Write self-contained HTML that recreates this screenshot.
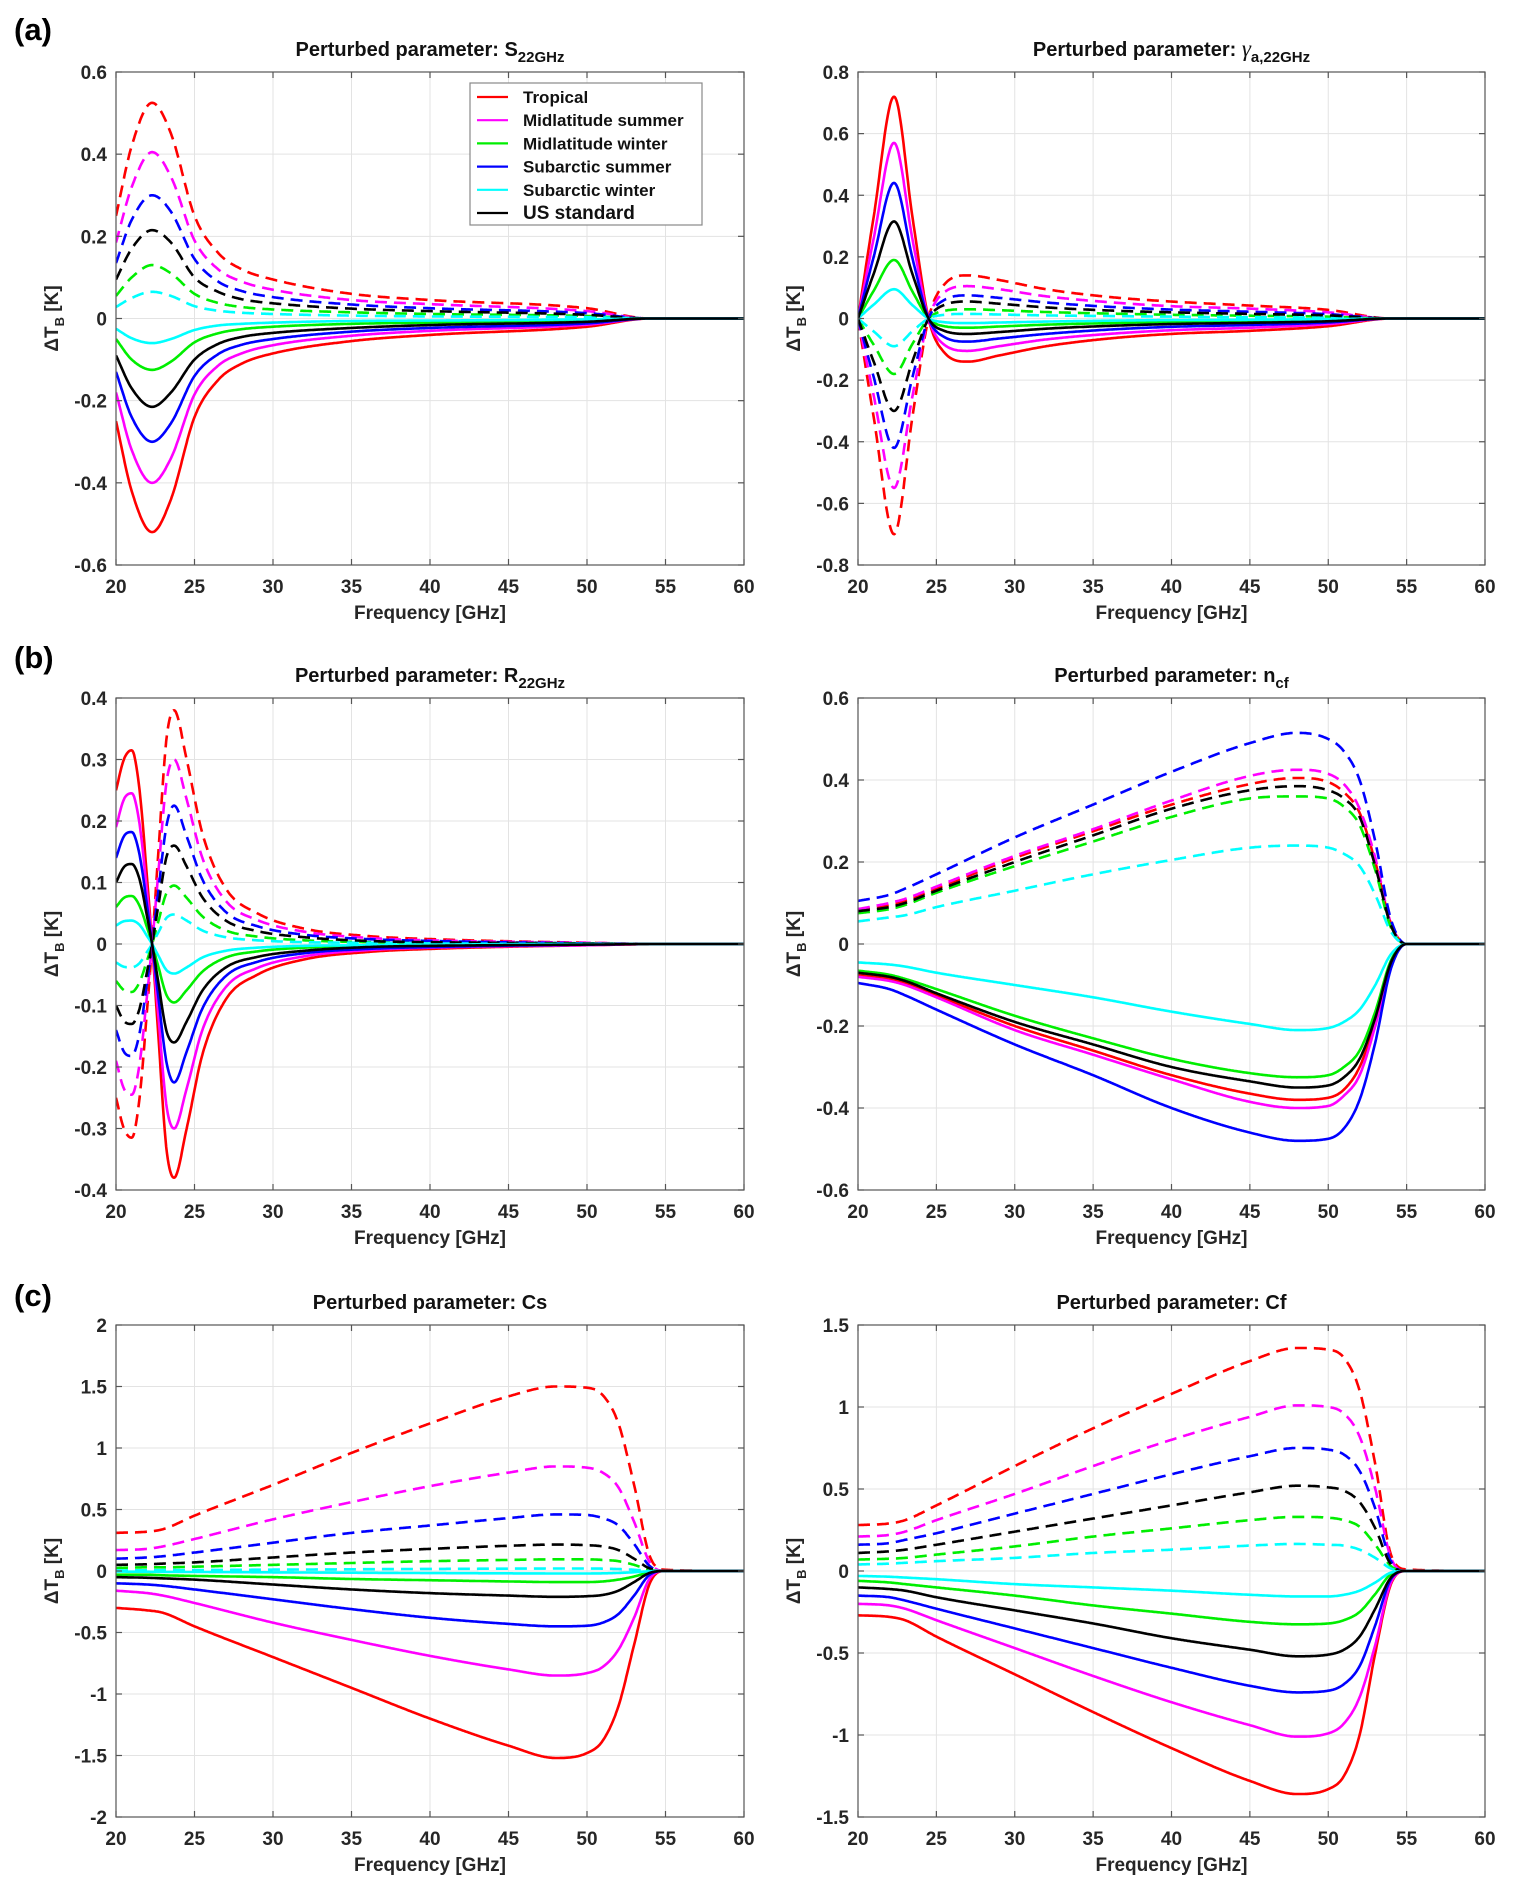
<!DOCTYPE html>
<html><head><meta charset="utf-8">
<style>
html,body{margin:0;padding:0;background:#fff;}
svg{display:block;font-family:"Liberation Sans",Arial,sans-serif;}
</style></head>
<body>
<svg id="fig" width="1513" height="1894" viewBox="0 0 1513 1894"></svg>
<script>
// ---------- data ----------
const colors = ["#ff0000","#ff00ff","#00ee00","#0000ff","#00ffff","#000000"];
const profileNames = ["Tropical","Midlatitude summer","Midlatitude winter","Subarctic summer","Subarctic winter","US standard"];

// Panel (a) left: S22GHz
const fS = [20,21,22.3,23.5,25,26.5,28,30,35,40,50,54,60];
const sSolid = [
 [-0.25,-0.42,-0.52,-0.44,-0.24,-0.15,-0.11,-0.085,-0.055,-0.04,-0.02,0,0],
 [-0.18,-0.32,-0.40,-0.34,-0.185,-0.115,-0.085,-0.065,-0.042,-0.03,-0.015,0,0],
 [-0.05,-0.10,-0.125,-0.105,-0.058,-0.036,-0.026,-0.02,-0.013,-0.01,-0.005,0,0],
 [-0.13,-0.24,-0.30,-0.255,-0.14,-0.087,-0.064,-0.05,-0.032,-0.023,-0.012,0,0],
 [-0.025,-0.048,-0.06,-0.05,-0.028,-0.017,-0.013,-0.01,-0.006,-0.005,-0.002,0,0],
 [-0.09,-0.17,-0.215,-0.18,-0.10,-0.062,-0.045,-0.035,-0.023,-0.016,-0.008,0,0]];
const sDash = [
 [0.25,0.42,0.525,0.45,0.25,0.16,0.12,0.095,0.06,0.045,0.025,0,0],
 [0.185,0.32,0.405,0.345,0.19,0.12,0.09,0.07,0.045,0.035,0.018,0,0],
 [0.055,0.10,0.13,0.11,0.06,0.038,0.028,0.022,0.015,0.011,0.006,0,0],
 [0.135,0.24,0.30,0.26,0.145,0.09,0.067,0.052,0.034,0.025,0.013,0,0],
 [0.028,0.05,0.065,0.055,0.03,0.019,0.014,0.011,0.007,0.005,0.003,0,0],
 [0.095,0.17,0.215,0.185,0.10,0.065,0.047,0.037,0.024,0.018,0.009,0,0]];

// Panel (a) right: gamma a,22GHz
const fG = [20,21,22.3,23.5,24.5,25.5,27,29,32,36,40,45,50,54,60];
const gSolid = [
 [0,0.33,0.72,0.32,0,-0.11,-0.14,-0.12,-0.09,-0.065,-0.05,-0.04,-0.025,0,0],
 [0,0.26,0.57,0.25,0,-0.085,-0.105,-0.09,-0.068,-0.05,-0.038,-0.03,-0.018,0,0],
 [0,0.09,0.19,0.085,0,-0.025,-0.03,-0.026,-0.02,-0.015,-0.011,-0.008,-0.005,0,0],
 [0,0.20,0.44,0.19,0,-0.06,-0.075,-0.065,-0.05,-0.036,-0.027,-0.021,-0.013,0,0],
 [0,0.045,0.095,0.042,0,-0.012,-0.015,-0.013,-0.01,-0.007,-0.005,-0.004,-0.002,0,0],
 [0,0.145,0.315,0.14,0,-0.04,-0.05,-0.044,-0.033,-0.024,-0.018,-0.014,-0.009,0,0]];
const gDash = [
 [0,-0.32,-0.70,-0.31,0,0.11,0.14,0.125,0.095,0.07,0.055,0.042,0.028,0,0],
 [0,-0.25,-0.55,-0.245,0,0.085,0.105,0.095,0.072,0.053,0.04,0.032,0.02,0,0],
 [0,-0.085,-0.18,-0.08,0,0.025,0.03,0.027,0.021,0.016,0.012,0.009,0.006,0,0],
 [0,-0.19,-0.42,-0.185,0,0.06,0.075,0.067,0.052,0.038,0.029,0.022,0.014,0,0],
 [0,-0.042,-0.09,-0.04,0,0.012,0.015,0.013,0.01,0.008,0.006,0.004,0.003,0,0],
 [0,-0.14,-0.30,-0.135,0,0.044,0.055,0.048,0.036,0.026,0.02,0.015,0.01,0,0]];

// Panel (b) left: R22GHz
const fR = [20,20.5,21,21.5,22,22.3,22.7,23.2,23.7,24.5,25.5,27,29,32,36,40,50,55,60];
const rSolid = [
 [0.25,0.30,0.315,0.25,0.10,0,-0.15,-0.33,-0.38,-0.30,-0.18,-0.09,-0.05,-0.025,-0.013,-0.008,-0.002,0,0],
 [0.19,0.235,0.245,0.195,0.078,0,-0.117,-0.26,-0.30,-0.235,-0.14,-0.07,-0.039,-0.02,-0.01,-0.006,-0.002,0,0],
 [0.06,0.075,0.078,0.062,0.025,0,-0.037,-0.082,-0.095,-0.075,-0.045,-0.022,-0.012,-0.006,-0.003,-0.002,0,0,0],
 [0.14,0.175,0.182,0.145,0.058,0,-0.087,-0.19,-0.225,-0.175,-0.105,-0.052,-0.029,-0.015,-0.008,-0.005,-0.001,0,0],
 [0.03,0.037,0.038,0.031,0.012,0,-0.019,-0.042,-0.048,-0.038,-0.022,-0.011,-0.006,-0.003,-0.002,-0.001,0,0,0],
 [0.10,0.125,0.13,0.105,0.042,0,-0.063,-0.14,-0.16,-0.126,-0.076,-0.038,-0.021,-0.011,-0.005,-0.003,-0.001,0,0]];
const rDash = [
 [-0.25,-0.30,-0.315,-0.25,-0.10,0,0.15,0.33,0.38,0.30,0.18,0.09,0.05,0.025,0.013,0.008,0.002,0,0],
 [-0.19,-0.235,-0.245,-0.195,-0.078,0,0.117,0.26,0.30,0.235,0.14,0.07,0.039,0.02,0.01,0.006,0.002,0,0],
 [-0.06,-0.075,-0.078,-0.062,-0.025,0,0.037,0.082,0.095,0.075,0.045,0.022,0.012,0.006,0.003,0.002,0,0,0],
 [-0.14,-0.175,-0.182,-0.145,-0.058,0,0.087,0.19,0.225,0.175,0.105,0.052,0.029,0.015,0.008,0.005,0.001,0,0],
 [-0.03,-0.037,-0.038,-0.031,-0.012,0,0.019,0.042,0.048,0.038,0.022,0.011,0.006,0.003,0.002,0.001,0,0,0],
 [-0.10,-0.125,-0.13,-0.105,-0.042,0,0.063,0.14,0.16,0.126,0.076,0.038,0.021,0.011,0.005,0.003,0.001,0,0]];

// Panels n_cf, Cs, Cf share a frequency grid
const fW = [20,22,23,25,30,35,40,45,48,50,51,52,53,54,55,60];
const nDash = [
 [0.085,0.095,0.105,0.135,0.21,0.275,0.34,0.39,0.405,0.395,0.37,0.32,0.20,0.05,0,0],
 [0.085,0.10,0.11,0.14,0.215,0.28,0.35,0.41,0.425,0.415,0.39,0.33,0.21,0.05,0,0],
 [0.075,0.085,0.095,0.125,0.19,0.25,0.31,0.355,0.36,0.355,0.335,0.29,0.18,0.04,0,0],
 [0.105,0.12,0.135,0.17,0.26,0.34,0.42,0.49,0.515,0.50,0.47,0.40,0.25,0.06,0,0],
 [0.055,0.065,0.07,0.09,0.13,0.17,0.205,0.235,0.24,0.235,0.22,0.19,0.12,0.03,0,0],
 [0.08,0.09,0.10,0.13,0.20,0.265,0.33,0.375,0.385,0.375,0.355,0.31,0.19,0.045,0,0]];
const nSolid = [
 [-0.075,-0.085,-0.095,-0.125,-0.20,-0.26,-0.32,-0.365,-0.38,-0.375,-0.355,-0.30,-0.19,-0.05,0,0],
 [-0.08,-0.09,-0.10,-0.13,-0.21,-0.27,-0.33,-0.385,-0.40,-0.395,-0.37,-0.32,-0.20,-0.05,0,0],
 [-0.065,-0.075,-0.085,-0.11,-0.175,-0.23,-0.28,-0.315,-0.325,-0.32,-0.30,-0.26,-0.165,-0.04,0,0],
 [-0.095,-0.11,-0.125,-0.16,-0.245,-0.32,-0.40,-0.46,-0.48,-0.475,-0.45,-0.38,-0.24,-0.06,0,0],
 [-0.045,-0.05,-0.055,-0.07,-0.10,-0.13,-0.165,-0.195,-0.21,-0.205,-0.19,-0.16,-0.10,-0.025,0,0],
 [-0.07,-0.08,-0.09,-0.12,-0.19,-0.245,-0.30,-0.335,-0.35,-0.345,-0.325,-0.28,-0.18,-0.045,0,0]];
const csDash = [
 [0.31,0.32,0.34,0.45,0.70,0.96,1.20,1.42,1.50,1.49,1.43,1.20,0.70,0.12,0.01,0],
 [0.17,0.18,0.20,0.26,0.42,0.56,0.69,0.80,0.85,0.84,0.80,0.68,0.40,0.07,0,0],
 [0.025,0.03,0.03,0.035,0.05,0.065,0.08,0.09,0.095,0.095,0.09,0.08,0.05,0.01,0,0],
 [0.10,0.11,0.12,0.15,0.23,0.31,0.37,0.43,0.46,0.455,0.43,0.37,0.22,0.04,0,0],
 [0.005,0.006,0.007,0.008,0.011,0.014,0.017,0.019,0.02,0.02,0.019,0.016,0.01,0.002,0,0],
 [0.05,0.055,0.06,0.07,0.11,0.15,0.18,0.205,0.215,0.21,0.20,0.17,0.10,0.02,0,0]];
const csSolid = [
 [-0.30,-0.32,-0.34,-0.45,-0.70,-0.95,-1.20,-1.42,-1.52,-1.48,-1.38,-1.10,-0.60,-0.10,0,0],
 [-0.16,-0.18,-0.20,-0.26,-0.42,-0.56,-0.69,-0.80,-0.85,-0.83,-0.78,-0.64,-0.38,-0.06,0,0],
 [-0.03,-0.03,-0.035,-0.04,-0.05,-0.065,-0.075,-0.085,-0.09,-0.09,-0.085,-0.07,-0.045,-0.01,0,0],
 [-0.10,-0.11,-0.12,-0.15,-0.23,-0.31,-0.38,-0.43,-0.45,-0.445,-0.42,-0.35,-0.20,-0.03,0,0],
 [-0.005,-0.006,-0.007,-0.008,-0.011,-0.014,-0.017,-0.019,-0.02,-0.02,-0.019,-0.016,-0.01,-0.002,0,0],
 [-0.05,-0.055,-0.06,-0.07,-0.11,-0.15,-0.18,-0.20,-0.21,-0.205,-0.195,-0.16,-0.09,-0.015,0,0]];
const cfDash = [
 [0.28,0.29,0.31,0.40,0.64,0.87,1.08,1.28,1.36,1.35,1.30,1.10,0.65,0.10,0.01,0],
 [0.21,0.22,0.24,0.31,0.47,0.64,0.80,0.94,1.01,1.00,0.96,0.82,0.50,0.08,0,0],
 [0.07,0.075,0.08,0.10,0.15,0.21,0.26,0.31,0.33,0.325,0.31,0.27,0.16,0.03,0,0],
 [0.16,0.17,0.19,0.23,0.35,0.47,0.59,0.70,0.75,0.74,0.71,0.61,0.38,0.06,0,0],
 [0.04,0.045,0.05,0.06,0.08,0.11,0.13,0.155,0.165,0.16,0.155,0.13,0.08,0.015,0,0],
 [0.11,0.12,0.13,0.16,0.24,0.32,0.40,0.48,0.52,0.51,0.49,0.42,0.26,0.04,0,0]];
const cfSolid = [
 [-0.27,-0.28,-0.30,-0.40,-0.63,-0.86,-1.08,-1.28,-1.36,-1.33,-1.25,-1.00,-0.50,-0.08,0,0],
 [-0.20,-0.21,-0.23,-0.30,-0.47,-0.64,-0.80,-0.94,-1.01,-0.99,-0.93,-0.77,-0.45,-0.07,0,0],
 [-0.06,-0.07,-0.08,-0.10,-0.15,-0.21,-0.26,-0.31,-0.325,-0.32,-0.30,-0.25,-0.14,-0.02,0,0],
 [-0.15,-0.16,-0.18,-0.23,-0.35,-0.47,-0.59,-0.70,-0.74,-0.73,-0.69,-0.58,-0.33,-0.05,0,0],
 [-0.03,-0.035,-0.04,-0.05,-0.08,-0.10,-0.12,-0.145,-0.155,-0.155,-0.145,-0.12,-0.07,-0.01,0,0],
 [-0.10,-0.11,-0.12,-0.16,-0.24,-0.32,-0.41,-0.48,-0.52,-0.51,-0.48,-0.40,-0.23,-0.04,0,0]];

const xTicks = [20,25,30,35,40,45,50,55,60];
const yTicksA = [-0.6,-0.4,-0.2,0,0.2,0.4,0.6];
const yTicksG = [-0.8,-0.6,-0.4,-0.2,0,0.2,0.4,0.6,0.8];
const yTicksR = [-0.4,-0.3,-0.2,-0.1,0,0.1,0.2,0.3,0.4];
const yTicksN = [-0.6,-0.4,-0.2,0,0.2,0.4,0.6];
const yTicksCs = [-2,-1.5,-1,-0.5,0,0.5,1,1.5,2];
const yTicksCf = [-1.5,-1,-0.5,0,0.5,1,1.5];

// ---------- drawing ----------
const NS = "http://www.w3.org/2000/svg";
const svg = document.getElementById("fig");
function mk(tag, attrs, parent){
  const e = document.createElementNS(NS, tag);
  for (const k in attrs) e.setAttribute(k, attrs[k]);
  (parent||svg).appendChild(e);
  return e;
}
function fmt(v){ return (Math.round(v*10)/10).toString(); }

function monotone(xs, ys){
  const n = xs.length, d = [], m = new Array(n);
  for (let i=0;i<n-1;i++) d.push((ys[i+1]-ys[i])/(xs[i+1]-xs[i]));
  m[0]=d[0]; m[n-1]=d[n-2];
  for (let i=1;i<n-1;i++){ m[i] = (d[i-1]*d[i]<=0)?0:(d[i-1]+d[i])/2; }
  for (let i=0;i<n-1;i++){
    if (d[i]===0){ m[i]=0; m[i+1]=0; continue; }
    const a=m[i]/d[i], b=m[i+1]/d[i], s=a*a+b*b;
    if (s>9){ const t=3/Math.sqrt(s); m[i]=t*a*d[i]; m[i+1]=t*b*d[i]; }
  }
  return function(x){
    let i=0; while(i<n-2 && x>xs[i+1]) i++;
    const h=xs[i+1]-xs[i], t=(x-xs[i])/h, t2=t*t, t3=t2*t;
    return (2*t3-3*t2+1)*ys[i]+(t3-2*t2+t)*h*m[i]+(-2*t3+3*t2)*ys[i+1]+(t3-t2)*h*m[i+1];
  };
}

function panel(cfg){
  const g = mk("g",{});
  
  
  const L=cfg.x0, R=cfg.x1, T=cfg.y0, B=cfg.y1;
  const xS = v => L + (v-20)/(60-20)*(R-L);
  const yS = v => B - (v-cfg.ymin)/(cfg.ymax-cfg.ymin)*(B-T);
  mk("rect",{x:L,y:T,width:R-L,height:B-T,fill:"#fff"},g);
  const grid = mk("g",{stroke:"#e3e3e3","stroke-width":1},g);
  
  
  xTicks.forEach(v=>{ mk("line",{x1:xS(v),x2:xS(v),y1:T,y2:B},grid); });
  cfg.yt.forEach(v=>{ mk("line",{x1:L,x2:R,y1:yS(v),y2:yS(v)},grid); });
  const clip = "clip-"+cfg.name;
  const cp = mk("clipPath",{id:clip},g);
  mk("rect",{x:L,y:T-2,width:R-L,height:B-T+4},cp);
  const sg = mk("g",{"clip-path":"url(#"+clip+")",fill:"none","stroke-width":2.6,"stroke-linejoin":"round"},g);
  function draw(arr, dashed){
    arr.forEach((ys,k)=>{
      const f = monotone(cfg.f, ys);
      let d="";
      for (let x=20;x<=60.0001;x+=0.05){ d += (d?"L":"M")+xS(x).toFixed(1)+","+yS(f(x)).toFixed(1); }
      const p = mk("path",{d:d,stroke:colors[k]},sg);
      if (dashed) p.setAttribute("stroke-dasharray","12 7");
      
      
    });
  }
  draw(cfg.dash, true);
  draw(cfg.solid, false);
  mk("rect",{x:L,y:T,width:R-L,height:B-T,fill:"none",stroke:"#555","stroke-width":1.2},g);
  const tk = mk("g",{stroke:"#555","stroke-width":1.2},g);
  xTicks.forEach(v=>{ mk("line",{x1:xS(v),x2:xS(v),y1:B,y2:B-6},tk); mk("line",{x1:xS(v),x2:xS(v),y1:T,y2:T+6},tk); });
  cfg.yt.forEach(v=>{ mk("line",{x1:L,x2:L+6,y1:yS(v),y2:yS(v)},tk); mk("line",{x1:R,x2:R-6,y1:yS(v),y2:yS(v)},tk); });
  const xl = mk("g",{"font-size":19,"font-weight":"bold",fill:"#262626","text-anchor":"middle"},g);
  
  
  xTicks.forEach(v=>{ const t=mk("text",{x:xS(v),y:B+28},xl); t.textContent=v; });
  const yl = mk("g",{"font-size":19,"font-weight":"bold",fill:"#262626","text-anchor":"end"},g);
  
  
  cfg.yt.forEach(v=>{ const t=mk("text",{x:L-9,y:yS(v)+7},yl); t.textContent=fmt(v); });
  const xt = mk("text",{x:(L+R)/2,y:B+54,"font-size":19,"font-weight":"bold",fill:"#262626","text-anchor":"middle"},g);
  xt.textContent="Frequency [GHz]";
  
  
  const cy=(T+B)/2, lx=L-58;
  const yt = mk("text",{x:lx,y:cy,"font-size":19,"font-weight":"bold",fill:"#262626","text-anchor":"middle",transform:"rotate(-90 "+lx+" "+cy+")"},g);
  yt.innerHTML = '\u0394T<tspan font-size="13" dy="6">B</tspan><tspan dy="-6"> [K]</tspan>';
  
  
  const tt = mk("text",{x:(L+R)/2,y:T-16,"font-size":20,"font-weight":"bold",fill:"#111","text-anchor":"middle"},g);
  tt.innerHTML = cfg.title;
  
  
  return {xS,yS};
}

const LX0=116, LX1=744, RX0=858, RX1=1485;
panel({name:"panel-s22", x0:LX0,x1:LX1,y0:72,y1:565,ymin:-0.6,ymax:0.6,yt:yTicksA,f:fS,solid:sSolid,dash:sDash,
  title:'Perturbed parameter: S<tspan font-size="15" dy="6">22GHz</tspan>'});
panel({name:"panel-gamma", x0:RX0,x1:RX1,y0:72,y1:565,ymin:-0.8,ymax:0.8,yt:yTicksG,f:fG,solid:gSolid,dash:gDash,
  title:'Perturbed parameter: <tspan font-family="Liberation Serif" font-style="italic" font-weight="normal" font-size="23">\u03B3</tspan><tspan font-size="15" dy="6">a,22GHz</tspan>'});
panel({name:"panel-r22", x0:LX0,x1:LX1,y0:698,y1:1190,ymin:-0.4,ymax:0.4,yt:yTicksR,f:fR,solid:rSolid,dash:rDash,
  title:'Perturbed parameter: R<tspan font-size="15" dy="6">22GHz</tspan>'});
panel({name:"panel-ncf", x0:RX0,x1:RX1,y0:698,y1:1190,ymin:-0.6,ymax:0.6,yt:yTicksN,f:fW,solid:nSolid,dash:nDash,
  title:'Perturbed parameter: n<tspan font-size="15" dy="6">cf</tspan>'});
panel({name:"panel-cs", x0:LX0,x1:LX1,y0:1325,y1:1817,ymin:-2,ymax:2,yt:yTicksCs,f:fW,solid:csSolid,dash:csDash,
  title:'Perturbed parameter: Cs'});
panel({name:"panel-cf", x0:RX0,x1:RX1,y0:1325,y1:1817,ymin:-1.5,ymax:1.5,yt:yTicksCf,f:fW,solid:cfSolid,dash:cfDash,
  title:'Perturbed parameter: Cf'});

[["(a)",40],["(b)",668],["(c)",1306]].forEach(([s,y])=>{
  const t=mk("text",{x:14,y:y,"font-size":31,"font-weight":"bold",fill:"#000"});
  t.textContent=s;
  
  
});

const lg = mk("g",{});


mk("rect",{x:470,y:83,width:232,height:142,fill:"#fff",stroke:"#888","stroke-width":1.2},lg);
profileNames.forEach((n,i)=>{
  const y = 97 + i*23.2;
  const ln = mk("line",{x1:477,x2:508,y1:y,y2:y,stroke:colors[i],"stroke-width":2.2},lg);
  
  
  const t = mk("text",{x:523,y:y+6,"font-size":i===5?19:17,"font-weight":"bold",fill:"#111"},lg);
  t.textContent=n;
  
  
});
</script>
</body></html>
